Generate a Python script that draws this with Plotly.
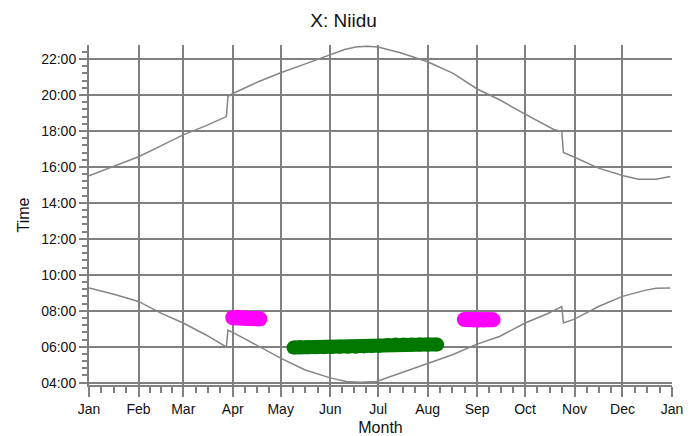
import plotly.graph_objects as go
import pandas as pd

# ---- data ----
sunset_dates = ["2015-01-01", "2015-01-19", "2015-02-01", "2015-02-15", "2015-03-01",
                "2015-03-15", "2015-03-28", "2015-03-29", "2015-04-01", "2015-04-17",
                "2015-05-01", "2015-05-16", "2015-06-01", "2015-06-10", "2015-06-17",
                "2015-06-24", "2015-07-01", "2015-07-15", "2015-08-01", "2015-08-17",
                "2015-09-01", "2015-09-15", "2015-10-01", "2015-10-19", "2015-10-24",
                "2015-10-25", "2015-11-01", "2015-11-16", "2015-12-01", "2015-12-11",
                "2015-12-22", "2015-12-31"]
sunset_times = ["15:30", "16:06", "16:34", "17:10", "17:47",
                "18:17", "18:48", "19:55", "20:05", "20:44",
                "21:14", "21:43", "22:13", "22:32", "22:40",
                "22:43", "22:40", "22:21", "21:51", "21:12",
                "20:20", "19:44", "18:56", "18:05", "17:58",
                "16:48", "16:32", "15:56", "15:31", "15:19",
                "15:19", "15:28"]

sunrise_dates = ["2015-01-01", "2015-01-16", "2015-02-01", "2015-02-15", "2015-03-01",
                 "2015-03-15", "2015-03-28", "2015-03-29", "2015-04-01", "2015-04-17",
                 "2015-05-01", "2015-05-16", "2015-06-01", "2015-06-11", "2015-06-20",
                 "2015-06-30", "2015-07-15", "2015-08-01", "2015-08-17", "2015-08-31",
                 "2015-09-15", "2015-10-01", "2015-10-15", "2015-10-24", "2015-10-25",
                 "2015-11-01", "2015-11-16", "2015-12-01", "2015-12-15", "2015-12-22",
                 "2015-12-31"]
sunrise_times = ["09:16", "08:56", "08:31", "07:52", "07:19",
                 "06:40", "05:59", "06:55", "06:48", "06:01",
                 "05:22", "04:43", "04:16", "04:04", "04:01",
                 "04:04", "04:32", "05:04", "05:34", "06:07",
                 "06:34", "07:19", "07:50", "08:14", "07:19",
                 "07:32", "08:14", "08:48", "09:08", "09:15",
                 "09:16"]

spring_dates = ["2015-04-01", "2015-04-04", "2015-04-07", "2015-04-10", "2015-04-13",
                "2015-04-16", "2015-04-18"]
spring_times = ["07:37", "07:38", "07:37", "07:35", "07:34", "07:33", "07:33"]

autumn_dates = ["2015-08-24", "2015-08-27", "2015-08-30", "2015-09-02", "2015-09-05",
                "2015-09-08", "2015-09-11"]
autumn_times = ["07:31", "07:30", "07:29", "07:29", "07:29", "07:30", "07:30"]

summer_dates = ["2015-05-09", "2015-05-13", "2015-05-18", "2015-05-23", "2015-05-28",
                "2015-06-02", "2015-06-07", "2015-06-12", "2015-06-17", "2015-06-22",
                "2015-06-27", "2015-07-02", "2015-07-07", "2015-07-12", "2015-07-17",
                "2015-07-22", "2015-07-27", "2015-08-01", "2015-08-07"]
summer_times = ["05:57", "05:58", "05:58", "05:58", "05:58",
                "05:59", "06:00", "06:00", "06:00", "06:01",
                "06:02", "06:03", "06:06", "06:07", "06:07",
                "06:07", "06:07", "06:07", "06:07"]

y_tick_vals = [4, 6, 8, 10, 12, 14, 16, 18, 20, 22]
y_tick_text = ["04:00", "06:00", "08:00", "10:00", "12:00", "14:00",
               "16:00", "18:00", "20:00", "22:00"]


def hours(ts):
    return [int(t[:2]) + int(t[3:]) / 60 for t in ts]


GRID = "#808080"
FONT = "Liberation Sans, Arial, sans-serif"
TXT = "#111111"

fig = go.Figure()
fig.add_trace(go.Scatter(x=sunset_dates, y=hours(sunset_times), mode="lines",
                         line=dict(color="#858585", width=1.5), name="Sunset"))
fig.add_trace(go.Scatter(x=sunrise_dates, y=hours(sunrise_times), mode="lines",
                         line=dict(color="#858585", width=1.5), name="Sunrise"))
for d, t, c, w in [(spring_dates, spring_times, "#FF00FF", 15),
                   (autumn_dates, autumn_times, "#FF00FF", 15),
                   (summer_dates, summer_times, "#007800", 14)]:
    fig.add_trace(go.Scatter(x=d, y=hours(t), mode="lines+markers",
                             line=dict(color=c, width=w),
                             marker=dict(color=c, size=w, symbol="circle"),
                             showlegend=False))

# minor x ticks: quarter months
months = pd.date_range("2015-01-01", "2016-01-01", freq="MS")
minor_x = []
for a, b in zip(months[:-1], months[1:]):
    for k in (1, 2, 3):
        minor_x.append((a + (b - a) * k / 4).strftime("%Y-%m-%d %H:%M"))

# page body has an 8px margin: figure is 691x428 placed at (8, 8)
fig.update_layout(
    width=691, height=428,
    margin=dict(l=81, r=27, t=37, b=51, autoexpand=False),
    plot_bgcolor="white", paper_bgcolor="white",
    showlegend=False,
    font=dict(family=FONT, color=TXT),
    title=dict(text="X: Niidu", x=(343.5 - 8) / 691, xanchor="center", xref="container",
               y=1 - 12 / 428, yref="container", yanchor="middle",
               font=dict(size=19, family=FONT, color=TXT)),
)
fig.update_xaxes(
    type="date", range=["2015-01-01", "2016-01-01"],
    dtick="M1", tick0="2015-01-01", tickformat="%b",
    showgrid=True, gridcolor=GRID, gridwidth=2,
    showline=True, linecolor=GRID, linewidth=2,
    ticks="outside", ticklen=10, tickwidth=2, tickcolor=GRID,
    tickfont=dict(size=14, family=FONT, color=TXT),
    minor=dict(tickmode="array", tickvals=minor_x, ticks="outside",
               ticklen=6, tickwidth=1.5, tickcolor=GRID, showgrid=False),
    title=dict(text="Month", font=dict(size=16, family=FONT, color=TXT),
               standoff=8),
    zeroline=False,
)
fig.update_yaxes(
    range=[3.87, 22.78],
    tickmode="array", tickvals=y_tick_vals, ticktext=y_tick_text,
    showgrid=True, gridcolor=GRID, gridwidth=2,
    showline=True, linecolor=GRID, linewidth=2,
    ticks="outside", ticklen=8, tickwidth=2, tickcolor=GRID,
    tickfont=dict(size=14, family=FONT, color=TXT),
    minor=dict(tick0=4, dtick=0.4, ticks="outside", ticklen=5,
               tickwidth=1.5, tickcolor=GRID, showgrid=False),
    title=dict(text="Time", font=dict(size=16, family=FONT, color=TXT),
               standoff=8),
    zeroline=False,
)

fig.write_html("out.html")
